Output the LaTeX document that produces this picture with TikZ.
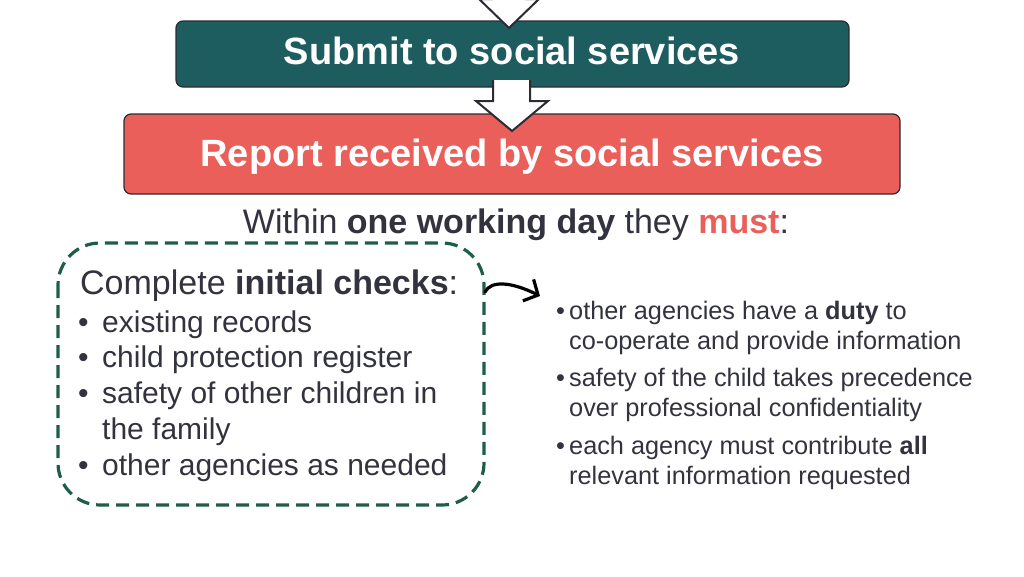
\documentclass[tikz,border=0pt]{standalone}
\usepackage{fontspec}
\setmainfont{Liberation Sans}
\usetikzlibrary{arrows.meta}
\definecolor{teal1}{HTML}{1E5D5F}
\definecolor{coral}{HTML}{EA5F59}
\definecolor{txt}{HTML}{33333F}
\definecolor{dgreen}{HTML}{1D5E45}
\definecolor{edge}{HTML}{2B2B33}
\tikzset{
  box/.style={draw=edge, line width=1.2pt, rounded corners=7pt, inner sep=0pt},
  blockarrow/.style={draw=edge, fill=white, line width=2pt, line join=miter},
  lefttxt/.style={anchor=base west, inner sep=0pt, text=txt, font=\fontsize{30}{36}\selectfont},
  righttxt/.style={anchor=base west, inner sep=0pt, text=txt, font=\fontsize{25.3}{30}\selectfont},
}
\begin{document}
\begin{tikzpicture}[x=1pt,y=-1pt]
\useasboundingbox (0,0) rectangle (1024,576);
% boxes
\node[box, fill=teal1, minimum width=673pt, minimum height=66pt] (submit) at (512.5,54) {};
\node[anchor=base, inner sep=0pt, text=white, font=\bfseries\fontsize{38}{40}\selectfont] (submittxt) at (512,64) {Submit to social services};
\node[box, fill=coral, minimum width=776pt, minimum height=80pt] (report) at (512,154) {};
\node[anchor=base, inner sep=0pt, text=white, font=\bfseries\fontsize{38}{40}\selectfont] (reporttxt) at (512,166) {Report received by social services};
% block arrows
\draw[blockarrow] (492,-40) -- (492,-1) -- (479,-1) -- (509,28) -- (539,-1) -- (526,-1) -- (526,-40);
\draw[blockarrow] (493,80) -- (493,101) -- (476,101) -- (512,131) -- (548,101) -- (530,101) -- (530,80);
% headline
\node[anchor=base, inner sep=0pt, text=txt, font=\fontsize{34}{40}\selectfont] (within) at (516,233)
  {Within \textbf{one working day} they \textbf{\textcolor{coral}{must}}:};
% dashed box
\draw[dgreen, line width=3.2pt, dash pattern=on 13pt off 7pt, rounded corners=42pt] (58,243) rectangle (484,505);
\coordinate (dbox) at (485,292);
% left text
\node[lefttxt, font=\fontsize{34}{40}\selectfont] (chk) at (80,294) {Complete \textbf{initial checks}:};
\foreach \y/\t [count=\i] in {332/existing records, 367/child protection register, 403/safety of other children in, 475/other agencies as needed}{
  \node[lefttxt] (lb\i) at (78,\y) {•};
  \node[lefttxt] (li\i) at (102,\y) {\t};
}
\node[lefttxt] (li5) at (102,439) {the family};
% curved arrow
\coordinate (ctip) at (540,296);
\draw[black, line width=3.2pt, line cap=round, -{Straight Barb[length=11pt,width=24pt,line width=3.2pt]}]
  (dbox) .. controls (491,280) and (512,282) .. (ctip);
% right text
\node[righttxt] (rb1) at (556,319) {•};
\node[righttxt] (r1) at (569,319) {other agencies have a \textbf{duty} to};
\node[righttxt] (r1b) at (569,349) {co-operate and provide information};
\node[righttxt] (rb2) at (556,386) {•};
\node[righttxt] (r2) at (569,386) {safety of the child takes precedence};
\node[righttxt] (r2b) at (569,416) {over professional confidentiality};
\node[righttxt] (rb3) at (556,454) {•};
\node[righttxt] (r3) at (569,454) {each agency must contribute \textbf{all}};
\node[righttxt] (r3b) at (569,484) {relevant information requested};
\end{tikzpicture}
\end{document}
